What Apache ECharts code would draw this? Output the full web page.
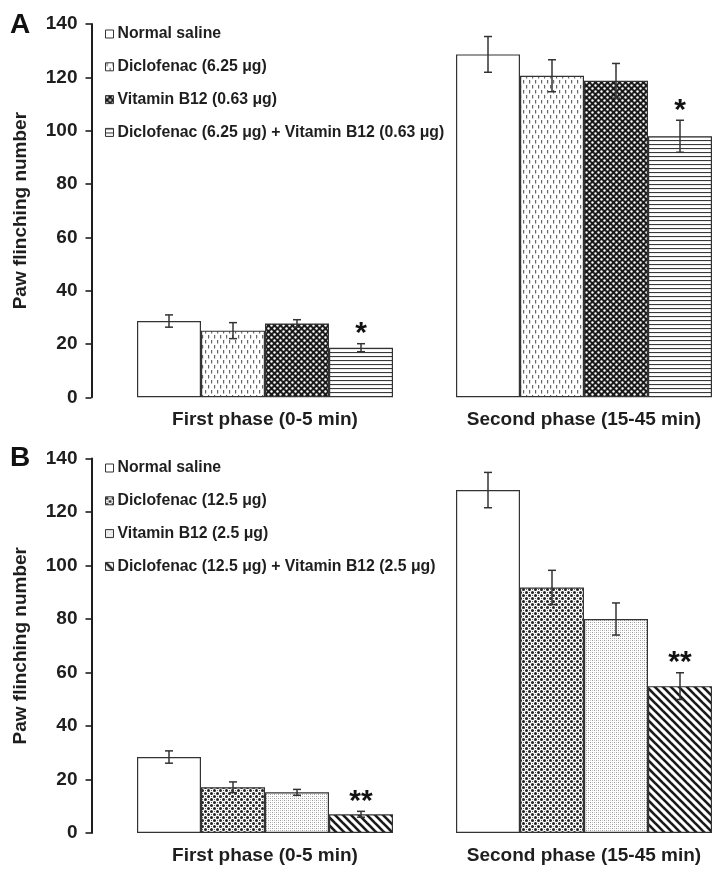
<!DOCTYPE html>
<html>
<head>
<meta charset="utf-8">
<script src="https://cdn.jsdelivr.net/npm/echarts@6/dist/echarts.min.js"></script>
<style>
html,body{margin:0;padding:0;background:#fff;}
#chart{width:722px;height:872px;}
</style>
</head>
<body>
<div id="chart"></div>
<script>
// ---------- DATA ----------
const categories = ['First phase (0-5 min)', 'Second phase (15-45 min)'];
const yMin = 0, yMax = 140, yStep = 20;

const namesA = ['Normal saline', 'Diclofenac (6.25 μg)', 'Vitamin B12 (0.63 μg)', 'Diclofenac (6.25 μg) + Vitamin B12 (0.63 μg)'];
const salineA = [28.6, 128.6];      const salineAErr = [2.3, 6.7];
const diclofenacA = [25.0, 120.6];  const diclofenacAErr = [3.0, 6.0];
const b12A = [27.7, 118.7];         const b12AErr = [1.4, 6.5];
const comboA = [18.6, 97.9];        const comboAErr = [1.5, 6.0];
const sigA = ['*', '*'];

const namesB = ['Normal saline', 'Diclofenac (12.5 μg)', 'Vitamin B12 (2.5 μg)', 'Diclofenac (12.5 μg) + Vitamin B12 (2.5 μg)'];
const salineB = [28.4, 128.2];      const salineBErr = [2.3, 6.6];
const diclofenacB = [17.1, 91.8];   const diclofenacBErr = [2.0, 6.4];
const b12B = [15.2, 80.0];          const b12BErr = [1.1, 6.0];
const comboB = [7.0, 54.9];         const comboBErr = [1.1, 5.0];
const sigB = ['**', '**'];

// ---------- STYLE ----------
const BAR_W = 64;
const FONT = 'Liberation Sans, Arial, sans-serif';
const INK = '#1e1e1e';

function pattern(w, h, draw) {
  const c = document.createElement('canvas');
  c.width = w; c.height = h;
  const ctx = c.getContext('2d');
  ctx.fillStyle = '#fff'; ctx.fillRect(0, 0, w, h);
  draw(ctx, w, h);
  return { image: c, repeat: 'repeat' };
}
const white = '#ffffff';
const dashes = pattern(6, 10, (g) => {
  g.fillStyle = '#666';
  g.fillRect(1, 0, 1.2, 3.5);
  g.fillRect(4, 5, 1.2, 3.5);
});
const darkDots = pattern(6, 6, (g) => {
  g.fillStyle = '#1a1a1a'; g.fillRect(0, 0, 6, 6);
  g.fillStyle = '#fff';
  g.beginPath(); g.arc(1.5, 1.5, 1.2, 0, Math.PI * 2); g.fill();
  g.beginPath(); g.arc(4.5, 4.5, 1.2, 0, Math.PI * 2); g.fill();
});
const hLines = pattern(4, 4, (g) => {
  g.fillStyle = '#3a3a3a'; g.fillRect(0, 0, 4, 1.1);
});
const blackSpots = pattern(6, 6, (g) => {
  g.fillStyle = '#222';
  g.beginPath(); g.arc(1.5, 1.5, 1.5, 0, Math.PI * 2); g.fill();
  g.beginPath(); g.arc(4.5, 4.5, 1.5, 0, Math.PI * 2); g.fill();
  g.fillStyle = '#666';
  g.fillRect(4, 1, 1, 1); g.fillRect(1, 4, 1, 1);
});
const lightDots = pattern(4, 4, (g) => {
  g.fillStyle = '#9a9a9a';
  g.fillRect(0, 0, 1, 1); g.fillRect(2, 2, 1, 1);
  g.fillStyle = '#c8c8c8';
  g.fillRect(2, 0, 1, 1); g.fillRect(0, 2, 1, 1);
});
const diagStripes = pattern(8, 8, (g) => {
  g.strokeStyle = '#1a1a1a'; g.lineWidth = 2.6;
  g.beginPath(); g.moveTo(-2, -2); g.lineTo(10, 10); g.stroke();
  g.beginPath(); g.moveTo(-2, 6); g.lineTo(2, 10); g.stroke();
  g.beginPath(); g.moveTo(6, -2); g.lineTo(10, 2); g.stroke();
});

const fillsA = [white, dashes, darkDots, hLines];
const fillsB = [white, blackSpots, lightDots, diagStripes];

const panelA = { names: namesA, vals: [salineA, diclofenacA, b12A, comboA], errs: [salineAErr, diclofenacAErr, b12AErr, comboAErr], sig: sigA, fills: fillsA };
const panelB = { names: namesB, vals: [salineB, diclofenacB, b12B, comboB], errs: [salineBErr, diclofenacBErr, b12BErr, comboBErr], sig: sigB, fills: fillsB };

const grids = [
  { left: 105.5, width: 638, top: 24, height: 373.3, outerBoundsMode: 'none', containLabel: false },
  { left: 105.5, width: 638, top: 458.5, height: 374.5, outerBoundsMode: 'none', containLabel: false }
];

const xAxes = [], yAxes = [], series = [], legends = [];
[panelA, panelB].forEach((p, gi) => {
  xAxes.push({
    type: 'category', gridIndex: gi, data: categories,
    axisLine: { show: false }, axisTick: { show: false },
    axisLabel: { fontFamily: FONT, fontWeight: 'bold', fontSize: 19, color: INK, margin: 13 }
  });
  yAxes.push({
    type: 'value', gridIndex: gi, min: yMin, max: yMax, interval: yStep, offset: 14,
    name: 'Paw flinching number', nameLocation: 'middle', nameGap: 61,
    nameTextStyle: { fontFamily: FONT, fontWeight: 'bold', fontSize: 19, color: INK },
    axisLine: { show: true, lineStyle: { color: INK, width: 2 } },
    axisTick: { show: true, inside: false, length: 6, lineStyle: { color: INK, width: 1.6 } },
    axisLabel: { fontFamily: FONT, fontWeight: 'bold', fontSize: 19, color: INK, margin: 14 },
    splitLine: { show: false }
  });
  p.names.forEach((nm, si) => {
    series.push({
      type: 'bar', name: nm, xAxisIndex: gi, yAxisIndex: gi,
      data: p.vals[si], barWidth: BAR_W, barGap: '0%',
      itemStyle: { color: p.fills[si], borderColor: '#333', borderWidth: 1.2 },
      emphasis: { disabled: true }, animation: false
    });
  });
  const errData = [];
  p.names.forEach((nm, si) => {
    categories.forEach((c, ci) => {
      errData.push([ci, p.vals[si][ci], p.errs[si][ci], si, si === 3 ? p.sig[ci] : '']);
    });
  });
  series.push({
    type: 'custom', xAxisIndex: gi, yAxisIndex: gi, z: 5, animation: false,
    data: errData, encode: { x: 0, y: 1 },
    renderItem: function (params, api) {
      const ci = api.value(0), v = api.value(1), e = api.value(2), si = api.value(3);
      const sig = errData[params.dataIndex][4];
      const base = api.coord([ci, v]);
      const x = base[0] + (si - 1.5) * BAR_W;
      const hi = api.coord([ci, v + e])[1];
      const lo = api.coord([ci, v - e])[1];
      const ls = { stroke: '#333', lineWidth: 1.5 };
      const children = [
        { type: 'line', shape: { x1: x, y1: hi, x2: x, y2: lo }, style: ls },
        { type: 'line', shape: { x1: x - 4, y1: hi, x2: x + 4, y2: hi }, style: ls },
        { type: 'line', shape: { x1: x - 4, y1: lo, x2: x + 4, y2: lo }, style: ls }
      ];
      if (sig) {
        children.push({
          type: 'text',
          style: { text: sig, x: x, y: hi + 5, align: 'center', verticalAlign: 'bottom',
                   fontFamily: FONT, fontWeight: 'bold', fontSize: 30, fill: '#111' }
        });
      }
      return { type: 'group', children: children };
    }
  });
  legends.push({
    orient: 'vertical', left: 100, top: gi === 0 ? 21 : 455,
    data: p.names, icon: 'rect', itemWidth: 8, itemHeight: 8, itemGap: 16.8,
    selectedMode: false,
    itemStyle: { borderColor: '#333', borderWidth: 1 },
    textStyle: { fontFamily: FONT, fontWeight: 'bold', fontSize: 15.8, color: INK, lineHeight: 14, padding: [0, 0, 0, -1] }
  });
});

const chart = echarts.init(document.getElementById('chart'), null, { renderer: 'canvas' });
chart.setOption({
  backgroundColor: '#fff',
  animation: false,
  title: [
    { text: 'A', left: 5, top: 6, textStyle: { fontFamily: FONT, fontWeight: 'bold', fontSize: 28, color: '#111' } },
    { text: 'B', left: 5, top: 439, textStyle: { fontFamily: FONT, fontWeight: 'bold', fontSize: 28, color: '#111' } }
  ],
  legend: legends,
  grid: grids,
  xAxis: xAxes,
  yAxis: yAxes,
  series: series
});
</script>
</body>
</html>
